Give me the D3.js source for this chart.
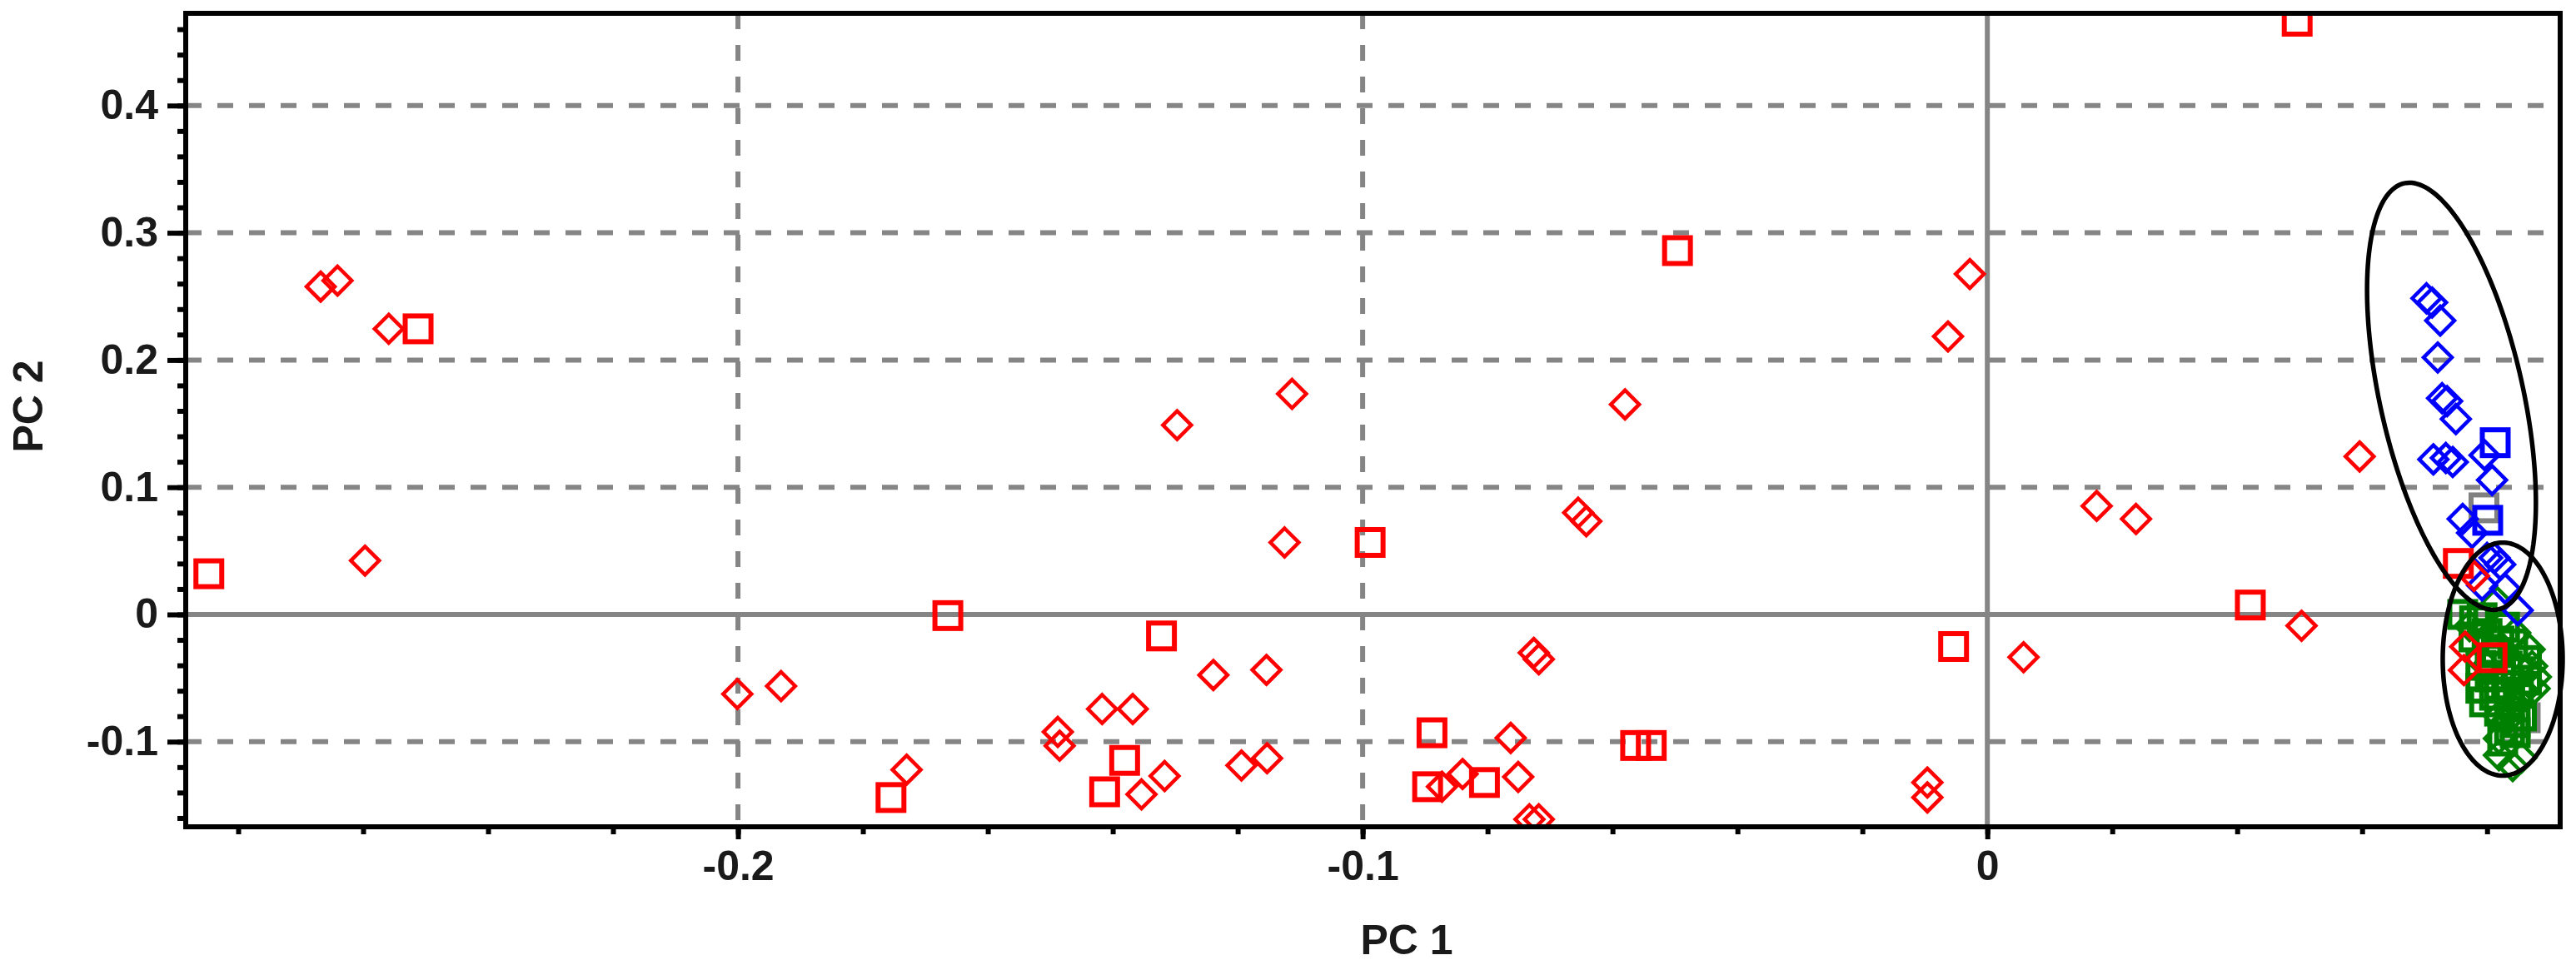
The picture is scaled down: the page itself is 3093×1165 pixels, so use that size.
<!DOCTYPE html>
<html>
<head>
<meta charset="utf-8">
<script src="https://cdn.jsdelivr.net/npm/d3@7"></script>
<style>
  body { margin: 0; background: #fff; }
  svg { display: block; background: #fff; }
</style>
</head>
<body>
<svg id="svgPca"></svg>
<script>
// [ --- PCA scores plot
var width = 3093;
var height = 1165;
var plotLeft = 223;
var plotRight = 3074;
var plotTop = 16;
var plotBottom = 993;

var xMajor = [-0.2, -0.1, 0];
var xLabels = ["-0.2", "-0.1", "0"];
var yMajor = [-0.1, 0, 0.1, 0.2, 0.3, 0.4];
var yLabels = ["-0.1", "0", "0.1", "0.2", "0.3", "0.4"];

// [PC1, PC2]
var redSquares = [
  [-0.2847, 0.0320], [-0.2512, 0.2245], [-0.1755, -0.1439], [-0.1664, -0.0009],
  [-0.1413, -0.1394], [-0.1381, -0.1147], [-0.1322, -0.0169], [-0.0988, 0.0566],
  [-0.0896, -0.1354], [-0.0889, -0.0930], [-0.0805, -0.1321], [-0.0563, -0.1030],
  [-0.0538, -0.1030], [-0.0496, 0.2860], [-0.0054, -0.0252], [0.0421, 0.0074],
  [0.0496, 0.4663], [0.0754, 0.0401], [0.0808, -0.0340]
];

var redDiamonds = [
  [-0.2668, 0.2577], [-0.2641, 0.2624], [-0.2559, 0.2245], [-0.2597, 0.0423],
  [-0.2001, -0.0625], [-0.1931, -0.0563], [-0.1730, -0.1220],
  [-0.1488, -0.0923], [-0.1485, -0.1032], [-0.1417, -0.0743], [-0.1368, -0.0743],
  [-0.1354, -0.1414], [-0.1317, -0.1270], [-0.1297, 0.1488], [-0.1239, -0.0476],
  [-0.1194, -0.1187], [-0.1153, -0.1130], [-0.1154, -0.0436], [-0.1125, 0.0566],
  [-0.1113, 0.1734], [-0.0873, -0.1354], [-0.0840, -0.1254], [-0.0763, -0.0970],
  [-0.0751, -0.1277], [-0.0733, -0.1610], [-0.0718, -0.1610], [-0.0726, -0.0302],
  [-0.0718, -0.0352], [-0.0655, 0.0800], [-0.0642, 0.0733], [-0.0580, 0.1651],
  [-0.0096, -0.1321], [-0.0096, -0.1438], [-0.0063, 0.2185], [-0.0028, 0.2676],
  [0.0058, -0.0336], [0.0175, 0.0853], [0.0238, 0.0751], [0.0503, -0.0089],
  [0.0596, 0.1242], [0.0779, 0.0303], [0.0765, -0.0253], [0.0763, -0.0438]
];

var blueSquares = [[0.0813, 0.1350], [0.0801, 0.0740]];

var blueDiamonds = [
  [0.0703, 0.2485], [0.0712, 0.2452], [0.0725, 0.2310], [0.0721, 0.2020],
  [0.0728, 0.1700], [0.0736, 0.1677], [0.0750, 0.1536], [0.0714, 0.1219],
  [0.0734, 0.1230], [0.0745, 0.1198], [0.0796, 0.1252], [0.0808, 0.1056],
  [0.0761, 0.0751], [0.0776, 0.0641], [0.0800, 0.0445], [0.0812, 0.0445],
  [0.0821, 0.0393], [0.0792, 0.0229], [0.0829, 0.0203], [0.0849, 0.0033]
];

var greySquares = [[0.0795, 0.0838], [0.0861, -0.0812]];

var greenSquares = [
  [0.0761, 0.0000], [0.0792, -0.0026], [0.0828, -0.0100], [0.0805, -0.0275],
  [0.0841, -0.0231], [0.0863, -0.0362], [0.0805, -0.0491], [0.0836, -0.0556],
  [0.0863, -0.0517], [0.0796, -0.0687], [0.0836, -0.0687], [0.0855, -0.0798],
  [0.0836, -0.0910], [0.0825, -0.0995], [0.0779, -0.0177], [0.0819, -0.0209],
  [0.0832, -0.0406], [0.0812, -0.0635], [0.0845, -0.0929], [0.0780, -0.0050],
  [0.0815, -0.0300], [0.0790, -0.0400], [0.0850, -0.0450], [0.0820, -0.0560],
  [0.0790, -0.0580], [0.0850, -0.0620], [0.0820, -0.0760], [0.0845, -0.0850],
  [0.0800, -0.0150]
];

var greenDiamonds = [
  [0.0816, 0.0098], [0.0845, -0.0144], [0.0868, -0.0275], [0.0878, -0.0491],
  [0.0876, -0.0582], [0.0819, -0.0798], [0.0845, -0.0700], [0.0819, -0.0975],
  [0.0819, -0.1106], [0.0855, -0.1126], [0.0841, -0.1191], [0.0799, -0.0406],
  [0.0772, -0.0092], [0.0872, -0.0406], [0.0859, -0.0602], [0.0832, -0.0831]
];

// ellipses: centre plus two conjugate half-axes, in PC units
var ellipses = [
  { center: [0.0743, 0.1715], axisA: [-0.00756, 0.1674], axisB: [0.0112, 0.0122] },
  { center: [0.0825, -0.0351], axisA: [0, 0.0916], axisB: [0.0096, 0] }
];

var xScale = d3.scaleLinear()
                .domain([-0.2884, 0.0917])
                .range([plotLeft, plotRight]);

var yScale = d3.scaleLinear()
                .domain([-0.1669, 0.4725])
                .range([plotBottom, plotTop]);

var xMinor = d3.range(-28, 10, 2).map(d => d / 100);
var yMinor = d3.range(-16, 48, 2).map(d => d / 100);

var svg = d3.select("#svgPca")
              .attr("width", width)
              .attr("height", height);

svg.append("rect")
    .attr("width", width)
    .attr("height", height)
    .attr("fill", "#fff");

svg.append("defs")
  .append("clipPath")
    .attr("id", "plotClip")
  .append("rect")
    .attr("x", plotLeft)
    .attr("y", plotTop)
    .attr("width", plotRight - plotLeft)
    .attr("height", plotBottom - plotTop);

// grid
var grid = svg.append("g")
                .attr("stroke", "#858585")
                .attr("stroke-width", 6);

grid.selectAll(".hgrid")
    .data(yMajor)
    .enter()
    .append("line")
      .attr("x1", plotLeft)
      .attr("x2", plotRight)
      .attr("y1", d => yScale(d))
      .attr("y2", d => yScale(d))
      .attr("stroke-dasharray", d => d === 0 ? null : "19,19");

grid.selectAll(".vgrid")
    .data(xMajor)
    .enter()
    .append("line")
      .attr("y1", plotTop)
      .attr("y2", plotBottom)
      .attr("x1", d => xScale(d))
      .attr("x2", d => xScale(d))
      .attr("stroke-dasharray", d => d === 0 ? null : "19,19");

// markers
var marks = svg.append("g")
                .attr("clip-path", "url(#plotClip)")
                .attr("fill", "none");

var diamond = "M0,-17L17,0L0,17L-17,0Z";

function drawSquares(data, color){
  marks.append("g")
    .selectAll("rect")
    .data(data)
    .enter()
    .append("rect")
      .attr("x", d => xScale(d[0]) - 15.5)
      .attr("y", d => yScale(d[1]) - 15.5)
      .attr("width", 31)
      .attr("height", 31)
      .attr("stroke", color)
      .attr("stroke-width", 6);
}

function drawDiamonds(data, color){
  marks.append("g")
    .selectAll("path")
    .data(data)
    .enter()
    .append("path")
      .attr("d", diamond)
      .attr("transform", d => "translate(" + xScale(d[0]) + "," + yScale(d[1]) + ")")
      .attr("stroke", color)
      .attr("stroke-width", 4.5);
}

drawSquares(greySquares, "#808080");
drawSquares(greenSquares, "#008000");
drawDiamonds(greenDiamonds, "#008000");
drawSquares(blueSquares, "#0000ff");
drawDiamonds(blueDiamonds, "#0000ff");
drawSquares(redSquares, "#ff0000");
drawDiamonds(redDiamonds, "#ff0000");

// ellipses
var ellipseLine = d3.line()
                    .x(d => xScale(d[0]))
                    .y(d => yScale(d[1]))
                    .curve(d3.curveLinearClosed);

svg.append("g")
  .selectAll("path")
  .data(ellipses)
  .enter()
  .append("path")
    .attr("d", function(e){
      var pts = d3.range(0, 2 * Math.PI, Math.PI / 90).map(function(t){
        return [e.center[0] + Math.cos(t) * e.axisA[0] + Math.sin(t) * e.axisB[0],
                e.center[1] + Math.cos(t) * e.axisA[1] + Math.sin(t) * e.axisB[1]];
      });
      return ellipseLine(pts);
    })
    .attr("fill", "none")
    .attr("stroke", "#000")
    .attr("stroke-width", 5.5);

// frame
svg.append("rect")
    .attr("x", plotLeft)
    .attr("y", plotTop)
    .attr("width", plotRight - plotLeft)
    .attr("height", plotBottom - plotTop)
    .attr("fill", "none")
    .attr("stroke", "#000")
    .attr("stroke-width", 6);

// axes
function styleAxis(g){
  g.select(".domain").remove();
  g.selectAll("line")
    .attr("stroke", "#000")
    .attr("stroke-width", 6);
  g.selectAll("text")
    .attr("fill", "#1a1a1a");
  g.attr("font-size", 50)
    .attr("font-family", "'Liberation Sans', Arial, sans-serif")
    .attr("font-weight", "bold");
}

svg.append("g")
    .attr("transform", "translate(0," + plotBottom + ")")
    .call(d3.axisBottom(xScale)
              .tickValues(xMinor)
              .tickSize(9)
              .tickFormat(""))
    .call(styleAxis);

svg.append("g")
    .attr("transform", "translate(0," + plotBottom + ")")
    .call(d3.axisBottom(xScale)
              .tickValues(xMajor)
              .tickSize(15)
              .tickPadding(13)
              .tickFormat((d, i) => xLabels[i]))
    .call(styleAxis);

svg.append("g")
    .attr("transform", "translate(" + plotLeft + ",0)")
    .call(d3.axisLeft(yScale)
              .tickValues(yMinor)
              .tickSize(10)
              .tickFormat(""))
    .call(styleAxis);

svg.append("g")
    .attr("transform", "translate(" + plotLeft + ",0)")
    .call(d3.axisLeft(yScale)
              .tickValues(yMajor)
              .tickSize(22)
              .tickPadding(11)
              .tickFormat((d, i) => yLabels[i]))
    .call(styleAxis);

// titles
svg.append("text")
    .attr("x", 1689)
    .attr("y", 1146)
    .style("text-anchor", "middle")
    .attr("font-size", 50)
    .attr("font-family", "'Liberation Sans', Arial, sans-serif")
    .attr("font-weight", "bold")
    .attr("fill", "#1a1a1a")
    .text("PC 1");

svg.append("text")
    .attr("transform", "translate(51,488) rotate(-90)")
    .style("text-anchor", "middle")
    .attr("font-size", 50)
    .attr("font-family", "'Liberation Sans', Arial, sans-serif")
    .attr("font-weight", "bold")
    .attr("fill", "#1a1a1a")
    .text("PC 2");
// PCA scores plot ---]
</script>
</body>
</html>
